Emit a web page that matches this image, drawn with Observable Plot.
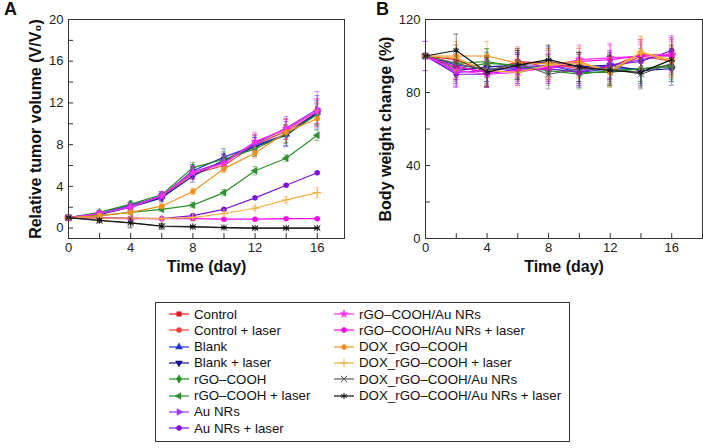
<!DOCTYPE html>
<html><head><meta charset="utf-8">
<script src="https://cdn.jsdelivr.net/npm/d3@7"></script>
<script src="https://cdn.jsdelivr.net/npm/@observablehq/plot@0.6"></script>
<style>
body{margin:0;background:#fff;font-family:"Liberation Sans",Arial,sans-serif;}
#wrap{position:relative;width:703px;height:448px;overflow:hidden;background:#fff;}
.panel{position:absolute;top:0;}
.letter{position:absolute;font-weight:bold;font-size:18px;line-height:18px;color:#111;}
#legend{position:absolute;left:155px;top:302px;width:415px;height:140px;border:1px solid #333;box-sizing:border-box;}
.item{position:absolute;display:flex;align-items:center;font-size:13.3px;height:16px;white-space:nowrap;color:#111;}
.item svg{margin-right:4px;}
</style></head><body>
<div id="wrap">
  <div id="pa" class="panel" style="left:0px"></div>
  <div id="pb" class="panel" style="left:352px"></div>
  <div class="letter" style="left:4px;top:0px">A</div>
  <div class="letter" style="left:376px;top:0px">B</div>
  <div id="legend"></div>
</div>
<script>
// ---------------- data ----------------
const days = [0, 2, 4, 6, 8, 10, 12, 14, 16];
const seriesNames = [
  "Control", "Control + laser", "Blank", "Blank + laser",
  "rGO–COOH", "rGO–COOH + laser", "Au NRs", "Au NRs + laser",
  "rGO–COOH/Au NRs", "rGO–COOH/Au NRs + laser", "DOX_rGO–COOH",
  "DOX_rGO–COOH + laser", "DOX_rGO–COOH/Au NRs", "DOX_rGO–COOH/Au NRs + laser"
];
const seriesColors = [
  "#e8161b", "#f0403a", "#2233d6", "#14148f",
  "#1c8c1c", "#2d8f2d", "#9a35f0", "#7f10e0",
  "#ff2cff", "#ff00ee", "#f0921a",
  "#f3b040", "#5a5a5a", "#111111"
];
const seriesSymbols = [
  "square", "circle", "triangle", "triangleDown",
  "diamond", "triangleLeft", "triangleRight", "circle",
  "star", "circle", "circle",
  "plus", "times", "asterisk"
];
// Panel A: relative tumor volume (V/V0)
const tumorVolume = [
  [1, 1.4, 2.0, 3.1, 5.3, 6.4, 8.2, 9.5, 11.2],
  [1, 1.3, 2.1, 3.0, 5.2, 6.0, 8.0, 9.3, 11.0],
  [1, 1.4, 2.2, 3.0, 5.5, 6.8, 7.9, 9.0, 11.1],
  [1, 1.3, 2.0, 2.9, 5.0, 6.5, 7.8, 8.9, 11.0],
  [1, 1.5, 2.3, 3.2, 5.8, 6.6, 7.6, 9.0, 10.9],
  [1, 1.2, 1.5, 1.8, 2.2, 3.4, 5.5, 6.7, 8.9],
  [1, 1.4, 2.1, 3.1, 5.4, 6.3, 8.1, 9.6, 11.4],
  [1, 1.0, 0.95, 0.9, 1.2, 1.8, 2.9, 4.1, 5.3],
  [1, 1.4, 2.0, 3.1, 5.3, 6.2, 8.3, 9.5, 11.2],
  [1, 0.95, 0.9, 0.9, 0.9, 0.85, 0.85, 0.9, 0.9],
  [1, 1.2, 1.5, 2.1, 3.5, 5.7, 7.2, 9.2, 10.5],
  [1, 0.95, 0.95, 0.9, 1.0, 1.4, 1.9, 2.7, 3.4],
  [1, 0.7, 0.5, 0.15, 0.1, 0.05, 0, 0, 0],
  [1, 0.75, 0.5, 0.2, 0.15, 0.05, 0, 0, 0]
];
const tumorError = [
  [0.05, 0.2, 0.3, 0.4, 0.6, 0.7, 0.8, 1.0, 1.2],
  [0.05, 0.2, 0.3, 0.4, 0.5, 0.6, 0.9, 1.1, 1.0],
  [0.05, 0.2, 0.3, 0.3, 0.6, 0.8, 0.8, 1.2, 1.6],
  [0.05, 0.2, 0.2, 0.4, 0.6, 0.6, 0.9, 1.0, 1.2],
  [0.05, 0.2, 0.3, 0.3, 0.5, 0.7, 0.7, 0.9, 1.0],
  [0.05, 0.1, 0.15, 0.2, 0.25, 0.3, 0.4, 0.3, 0.5],
  [0.05, 0.2, 0.3, 0.4, 0.6, 0.7, 0.8, 1.1, 1.7],
  [0.05, 0.1, 0.1, 0.1, 0.1, 0.1, 0.1, 0.1, 0.1],
  [0.05, 0.2, 0.3, 0.4, 0.6, 0.7, 0.9, 0.9, 1.2],
  [0.05, 0.1, 0.1, 0.1, 0.1, 0.1, 0.1, 0.1, 0.1],
  [0.05, 0.1, 0.2, 0.2, 0.3, 0.4, 0.5, 0.7, 0.8],
  [0.05, 0.1, 0.1, 0.1, 0.1, 0.15, 0.2, 0.3, 0.5],
  [0.05, 0.2, 0.5, 0.3, 0.1, 0.05, 0.05, 0.05, 0.05],
  [0.05, 0.2, 0.4, 0.2, 0.1, 0.05, 0.05, 0.05, 0.05]
];
// Panel B: body weight change (%)
const bodyWeight = [
  [100, 98, 91, 97, 96, 93, 94, 101, 100],
  [100, 94, 91, 97, 94, 95, 92, 100, 97],
  [100, 95, 93, 93, 95, 91, 93, 93, 94],
  [100, 92, 94, 95, 97, 94, 95, 92, 93],
  [100, 96, 97, 94, 92, 90, 92, 93, 95],
  [100, 93, 96, 95, 93, 91, 91, 93, 94],
  [100, 91, 92, 94, 95, 92, 95, 98, 101],
  [100, 90, 90, 93, 93, 91, 95, 97, 103],
  [100, 92, 90, 91, 94, 98, 99, 100, 101],
  [100, 94, 91, 92, 93, 97, 98, 100, 100],
  [100, 100, 100, 96, 96, 97, 91, 102, 97],
  [100, 99, 92, 91, 95, 96, 92, 102, 98],
  [100, 96, 92, 96, 90, 93, 93, 90, 96],
  [100, 103, 91, 95, 98, 94, 92, 91, 98]
];
const bodyWeightError = [
  [1, 8, 7, 7, 8, 8, 7, 8, 9],
  [1, 7, 8, 8, 7, 7, 8, 7, 8],
  [1, 8, 7, 8, 8, 7, 7, 8, 8],
  [1, 7, 8, 7, 8, 8, 7, 8, 9],
  [1, 8, 7, 7, 8, 8, 8, 7, 8],
  [1, 7, 8, 8, 7, 8, 8, 7, 8],
  [8, 8, 7, 8, 8, 8, 7, 8, 9],
  [8, 7, 7, 8, 8, 8, 8, 7, 8],
  [1, 8, 7, 7, 8, 8, 8, 9, 9],
  [1, 7, 8, 8, 8, 7, 8, 8, 8],
  [1, 8, 8, 7, 8, 8, 8, 9, 8],
  [1, 7, 8, 8, 8, 8, 7, 8, 9],
  [1, 8, 8, 8, 8, 8, 8, 8, 8],
  [1, 9, 8, 8, 8, 8, 8, 8, 8]
];
const xMajorTicks = [0, 4, 8, 12, 16];
const xMinorTicks = [2, 6, 10, 14];
const yMajorA = [0, 4, 8, 12, 16, 20];
const yMinorA = [2, 6, 10, 14, 18];
const yMajorB = [0, 40, 80, 120];
const yMinorB = [20, 60, 100];

// ---------------- symbols ----------------
const S3 = Math.sqrt(3);
const customSymbols = {
  triangleDown: {draw(c, size) { const y = -Math.sqrt(size / (S3 * 3)); c.moveTo(0, -2 * y); c.lineTo(-S3 * y, y); c.lineTo(S3 * y, y); c.closePath(); }},
  triangleLeft: {draw(c, size) { const y = -Math.sqrt(size / (S3 * 3)); c.moveTo(2 * y, 0); c.lineTo(-y, -S3 * y); c.lineTo(-y, S3 * y); c.closePath(); }},
  triangleRight: {draw(c, size) { const y = -Math.sqrt(size / (S3 * 3)); c.moveTo(-2 * y, 0); c.lineTo(y, -S3 * y); c.lineTo(y, S3 * y); c.closePath(); }}
};
const strokeOnly = new Set(["plus", "times", "asterisk"]);
const symOf = (name) => customSymbols[name] || name;
const d3Sym = {square: d3.symbolSquare, circle: d3.symbolCircle, triangle: d3.symbolTriangle, diamond: d3.symbolDiamond,
  star: d3.symbolStar, plus: d3.symbolPlus, times: d3.symbolTimes, asterisk: d3.symbolAsterisk};

function seriesMarks(values, errors) {
  const marks = [];
  values.forEach((vals, s) => {
    const rows = days.map((d, i) => ({day: d, v: vals[i], lo: vals[i] - errors[s][i], hi: vals[i] + errors[s][i]}));
    const col = seriesColors[s];
    marks.push(Plot.ruleX(rows, {x: "day", y1: "lo", y2: "hi", stroke: col, strokeOpacity: 0.5, strokeWidth: 1}));
    marks.push(Plot.ruleY(rows, {y: "hi", x1: "day", x2: "day", insetLeft: -2.5, insetRight: -2.5, stroke: col, strokeOpacity: 0.5}));
    marks.push(Plot.ruleY(rows, {y: "lo", x1: "day", x2: "day", insetLeft: -2.5, insetRight: -2.5, stroke: col, strokeOpacity: 0.5}));
    marks.push(Plot.line(rows, {x: "day", y: "v", stroke: col, strokeWidth: 1.2}));
    const so = strokeOnly.has(seriesSymbols[s]);
    marks.push(Plot.dot(rows, {x: "day", y: "v", symbol: symOf(seriesSymbols[s]), r: so ? 3 : 2.5,
      fill: so ? "none" : col, stroke: col, strokeWidth: so ? 1 : 0.6}));
  });
  return marks;
}

function panel({values, errors, xDomain, yDomain, yMajor, yMinor, width, height, mL, mR, mT, mB, yTitle, yTitleDx}) {
  const innerW = width - mL - mR, innerH = height - mT - mB;
  return Plot.plot({
    width, height, marginLeft: mL, marginRight: mR, marginTop: mT, marginBottom: mB,
    style: {fontFamily: "'Liberation Sans', Arial, sans-serif", fontSize: "13px", color: "#222", background: "transparent", overflow: "visible"},
    x: {domain: xDomain},
    y: {domain: yDomain},
    marks: [
      ...seriesMarks(values, errors),
      Plot.frame({stroke: "#333", strokeWidth: 1}),
      Plot.tickY([...yMajor, ...yMinor], {y: d => d, insetRight: innerW - 5, stroke: "#333"}),
      Plot.tickX([...xMajorTicks, ...xMinorTicks], {x: d => d, insetTop: innerH - 5, stroke: "#333"}),
      Plot.axisX({ticks: xMajorTicks, tickSize: 0, tickPadding: 4, label: null, fill: "#222"}),
      Plot.axisY({ticks: yMajor, tickSize: 0, tickPadding: 5, label: null, fill: "#222"}),
      Plot.text(["Time (day)"], {frameAnchor: "bottom", dy: 33, textAnchor: "middle", fontWeight: "bold", fontSize: 16, fill: "#111"}),
      Plot.text([yTitle], {frameAnchor: "left", rotate: -90, dx: yTitleDx, textAnchor: "middle", lineAnchor: "middle", fontWeight: "bold", fontSize: 16, fill: "#111"})
    ]
  });
}

document.getElementById("pa").append(panel({
  values: tumorVolume, errors: tumorError, xDomain: [0, 17.75], yDomain: [-1, 20],
  yMajor: yMajorA, yMinor: yMinorA, width: 352, height: 282, mL: 68, mR: 8, mT: 19, mB: 44,
  yTitle: "Relative tumor volume (V/V₀)", yTitleDx: -33
}));
document.getElementById("pb").append(panel({
  values: bodyWeight, errors: bodyWeightError, xDomain: [0, 18], yDomain: [0, 120],
  yMajor: yMajorB, yMinor: yMinorB, width: 351, height: 282, mL: 73, mR: 1, mT: 19, mB: 44,
  yTitle: "Body weight change (%)", yTitleDx: -39.5
}));

// ---------------- legend ----------------
const legend = document.getElementById("legend");
seriesNames.forEach((name, s) => {
  const col2 = s >= 8;
  const row = col2 ? s - 8 : s;
  const div = document.createElement("div");
  div.className = "item";
  div.style.left = (col2 ? 177 : 12) + "px";
  div.style.top = (3 + row * 16.3) + "px";
  const svg = d3.create("svg").attr("width", 22).attr("height", 16);
  const col = seriesColors[s];
  svg.append("line").attr("x1", 1).attr("x2", 21).attr("y1", 8).attr("y2", 8).attr("stroke", col).attr("stroke-width", 1.2);
  const nm = seriesSymbols[s];
  const so = strokeOnly.has(nm);
  const type = customSymbols[nm] || d3Sym[nm];
  const r = so ? 3 : 2.5;
  svg.append("path").attr("transform", "translate(11,8)")
    .attr("d", d3.symbol(type, r * r * Math.PI)())
    .attr("fill", so ? "none" : col).attr("stroke", col).attr("stroke-width", so ? 1 : 0.6);
  div.append(svg.node());
  const span = document.createElement("span");
  span.textContent = name;
  div.append(span);
  legend.append(div);
});
</script>
</body></html>
